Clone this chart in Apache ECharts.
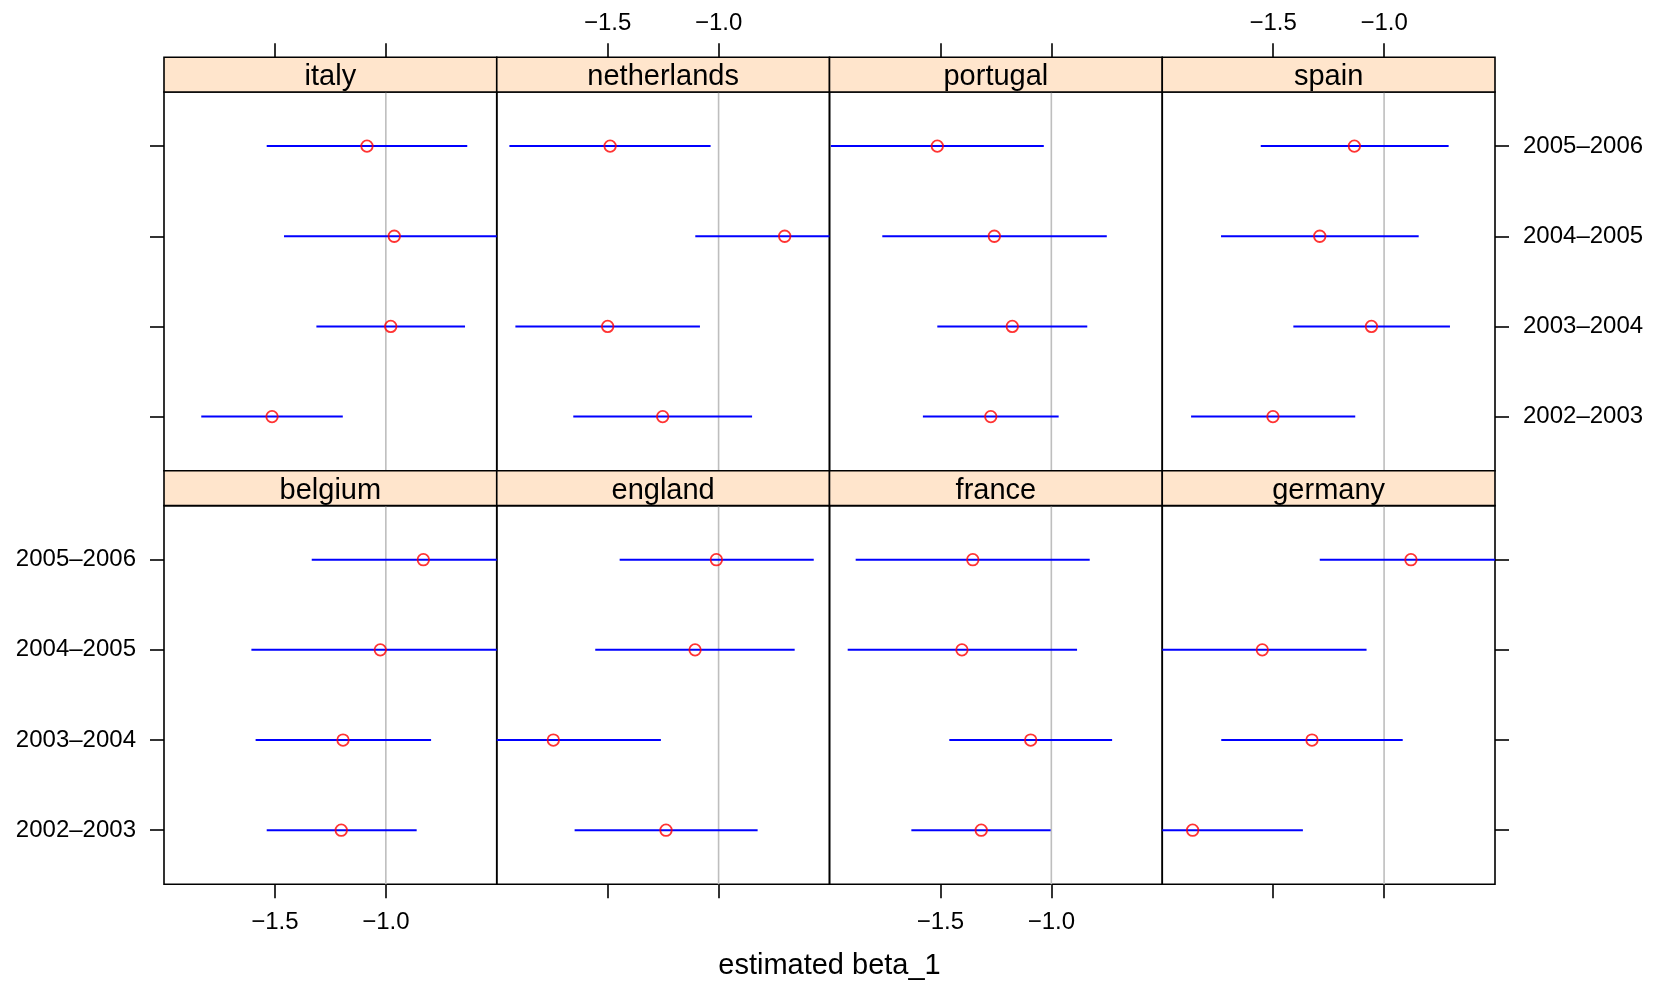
<!DOCTYPE html>
<html>
<head>
<meta charset="utf-8">
<script src="https://cdn.jsdelivr.net/npm/echarts@6/dist/echarts.min.js"></script>
<style>
  html, body { margin: 0; padding: 0; background: #ffffff; }
  #chart { width: 1654px; height: 982px; }
</style>
</head>
<body>
<div id="chart"></div>
<script>
// Season labels (bottom to top) and panel order (bottom row first, then top row)
const periods = ['2002–2003', '2003–2004', '2004–2005', '2005–2006'];
const countries = ['belgium', 'england', 'france', 'germany', 'italy', 'netherlands', 'portugal', 'spain'];
const xTickValues = [-1.5, -1.0];
const refValue = -1.0;

// Estimated beta_1 with interval bounds, one value per season (order of `periods`)
const belgiumEst  = [-1.201, -1.193, -1.025, -0.831];
const belgiumLow  = [-1.537, -1.587, -1.606, -1.334];
const belgiumHigh = [-0.861, -0.796, -0.444, -0.328];

const englandEst  = [-1.237, -1.745, -1.106, -1.010];
const englandLow  = [-1.649, -2.230, -1.556, -1.446];
const englandHigh = [-0.824, -1.260, -0.657, -0.571];

const franceEst  = [-1.316, -1.093, -1.403, -1.354];
const franceLow  = [-1.631, -1.460, -1.918, -1.882];
const franceHigh = [-1.003, -0.726, -0.884, -0.827];

const germanyEst  = [-1.863, -1.325, -1.549, -0.879];
const germanyLow  = [-2.360, -1.734, -2.019, -1.290];
const germanyHigh = [-1.366, -0.916, -1.079, -0.468];

const italyEst  = [-1.513, -0.978, -0.962, -1.085];
const italyLow  = [-1.832, -1.313, -1.459, -1.537];
const italyHigh = [-1.194, -0.643, -0.465, -0.633];

const netherlandsEst  = [-1.252, -1.500, -0.702, -1.489];
const netherlandsLow  = [-1.655, -1.916, -1.105, -1.943];
const netherlandsHigh = [-0.849, -1.084, -0.299, -1.036];

const portugalEst  = [-1.273, -1.176, -1.257, -1.514];
const portugalLow  = [-1.579, -1.514, -1.762, -1.994];
const portugalHigh = [-0.967, -0.838, -0.750, -1.034];

const spainEst  = [-1.501, -1.057, -1.290, -1.134];
const spainLow  = [-1.870, -1.409, -1.735, -1.556];
const spainHigh = [-1.130, -0.703, -0.844, -0.709];

const estByCountry = {
  belgium: belgiumEst, england: englandEst, france: franceEst, germany: germanyEst,
  italy: italyEst, netherlands: netherlandsEst, portugal: portugalEst, spain: spainEst
};
const lowByCountry = {
  belgium: belgiumLow, england: englandLow, france: franceLow, germany: germanyLow,
  italy: italyLow, netherlands: netherlandsLow, portugal: portugalLow, spain: spainLow
};
const highByCountry = {
  belgium: belgiumHigh, england: englandHigh, france: franceHigh, germany: germanyHigh,
  italy: italyHigh, netherlands: netherlandsHigh, portugal: portugalHigh, spain: spainHigh
};

// Panel geometry
const FONT = '"Liberation Sans", Arial, Helvetica, sans-serif';
const colLeft = 164;
const colWidth = 332.75;
const panelHeight = 378.7;
const stripHeight = 34.8;
const rowTops = { top: 92, bottom: 505.6 };
const BLACK = '#000000';

const fmtNum = v => (v < 0 ? '\u2212' : '') + Math.abs(v).toFixed(1);

const grids = [], xAxes = [], yAxes = [], series = [], graphics = [];

countries.forEach((country, i) => {
  const col = i % 4;
  const row = i < 4 ? 'bottom' : 'top';
  const left = colLeft + col * colWidth;
  const top = rowTops[row];

  grids.push({
    left: left, top: top, width: colWidth, height: panelHeight,
    show: true, borderColor: BLACK, borderWidth: 1.6, backgroundColor: 'transparent',
    containLabel: false, outerBoundsMode: 'none'
  });

  const xLabelled = row === 'top' ? (col === 1 || col === 3) : (col === 0 || col === 2);
  xAxes.push({
    gridIndex: i, type: 'value', min: -2.0, max: -0.5,
    position: row === 'top' ? 'top' : 'bottom',
    offset: row === 'top' ? stripHeight : 0,
    axisLine: { show: false },
    splitLine: { show: false },
    axisTick: { show: true, inside: false, length: 14, customValues: xTickValues,
                lineStyle: { color: BLACK, width: 1.6 } },
    axisLabel: { show: xLabelled, customValues: xTickValues, formatter: fmtNum,
                 color: BLACK, fontSize: 24, fontFamily: FONT,
                 margin: row === 'top' ? 22 : 26 }
  });

  const yVisible = col === 0 || col === 3;
  const yLabelled = (row === 'bottom' && col === 0) || (row === 'top' && col === 3);
  yAxes.push({
    gridIndex: i, type: 'value', min: 0.4, max: 4.6,
    show: yVisible,
    position: col === 3 ? 'right' : 'left',
    axisLine: { show: false },
    splitLine: { show: false },
    axisTick: { show: true, inside: false, length: 14, customValues: [1, 2, 3, 4],
                lineStyle: { color: BLACK, width: 1.6 } },
    axisLabel: { show: yLabelled, customValues: [1, 2, 3, 4],
                 formatter: v => periods[Math.round(v) - 1],
                 color: BLACK, fontSize: 24, fontFamily: FONT, margin: 28 }
  });

  // grey reference line at beta_1 = -1
  series.push({
    type: 'line', xAxisIndex: i, yAxisIndex: i, z: 1, silent: true,
    data: [[refValue, 0.4], [refValue, 4.6]],
    symbol: 'none', showSymbol: false,
    lineStyle: { color: '#BEBEBE', width: 1.6 }
  });

  // interval segments
  const est = estByCountry[country], lo = lowByCountry[country], hi = highByCountry[country];
  series.push({
    type: 'custom', xAxisIndex: i, yAxisIndex: i, z: 2, silent: true, clip: true,
    encode: { x: [0, 1], y: 2 },
    data: periods.map((p, k) => [lo[k], hi[k], k + 1]),
    renderItem: (params, api) => {
      const cs = params.coordSys;
      const yv = api.value(2);
      const a = api.coord([api.value(0), yv]);
      const b = api.coord([api.value(1), yv]);
      const x1 = Math.max(cs.x, Math.min(cs.x + cs.width, a[0]));
      const x2 = Math.max(cs.x, Math.min(cs.x + cs.width, b[0]));
      return {
        type: 'line',
        shape: { x1: x1, y1: a[1], x2: x2, y2: b[1] },
        style: { stroke: '#0000FF', lineWidth: 2 }
      };
    }
  });

  // point estimates as open circles
  series.push({
    type: 'scatter', xAxisIndex: i, yAxisIndex: i, z: 3, silent: true,
    data: periods.map((p, k) => [est[k], k + 1]),
    symbol: 'circle', symbolSize: 11.5,
    itemStyle: { color: 'rgba(0,0,0,0)', borderColor: '#FF0000', borderWidth: 1.8 }
  });

  // strip with the country name
  graphics.push({
    type: 'rect', silent: true, z: 10,
    shape: { x: left, y: top - stripHeight, width: colWidth, height: stripHeight },
    style: { fill: '#FFE5CC', stroke: BLACK, lineWidth: 1.6 }
  });
  graphics.push({
    type: 'text', silent: true, z: 11,
    x: left + colWidth / 2, y: top - stripHeight / 2 + 2.5,
    style: { text: country, font: '29px ' + FONT, fill: BLACK,
             textAlign: 'center', textVerticalAlign: 'middle' }
  });
});

// axis title
graphics.push({
  type: 'text', silent: true, z: 11,
  x: colLeft + 2 * colWidth, y: 966,
  style: { text: 'estimated beta_1', font: '29px ' + FONT, fill: BLACK,
           textAlign: 'center', textVerticalAlign: 'middle' }
});

const chart = echarts.init(document.getElementById('chart'), null, { renderer: 'canvas' });
chart.setOption({
  backgroundColor: '#ffffff',
  animation: false,
  grid: grids,
  xAxis: xAxes,
  yAxis: yAxes,
  series: series,
  graphic: graphics
});
</script>
</body>
</html>
